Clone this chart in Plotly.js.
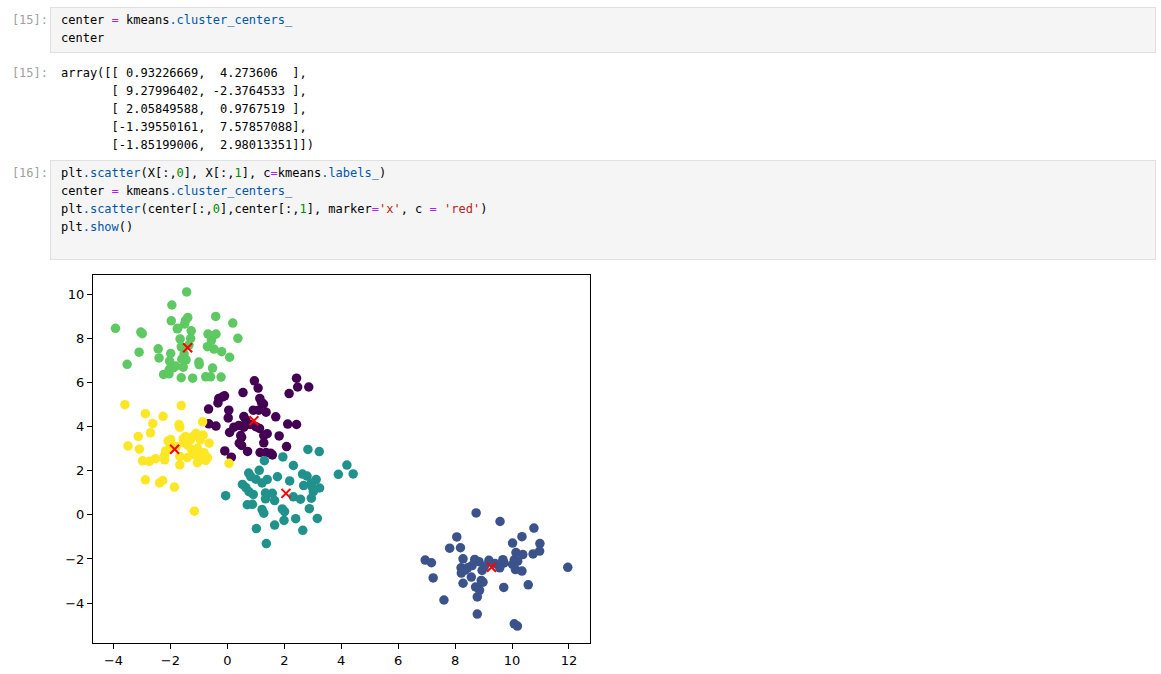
<!DOCTYPE html>
<html>
<head>
<meta charset="utf-8">
<script src="https://cdn.plot.ly/plotly-3.0.1.min.js"></script>
<style>
  html, body { margin: 0; padding: 0; background: #fff; width: 1161px; height: 674px; overflow: hidden; }
  .code { position: absolute; margin: 0; font-family: "DejaVu Sans Mono", "Liberation Mono", monospace; font-size: 12px; line-height: 18px; color: #000; white-space: pre; }
  .code div { height: 18px; }
  .prompt { color: #a0a0a0; text-align: right; width: 48px; left: 0; }
  .box { position: absolute; left: 50px; width: 1104px; background: #f5f5f5; border: 1px solid #e0e0e0; }
  .op { color: #AA22FF; }
  .pr { color: #0055AA; }
  .nu { color: #008800; }
  .st { color: #BA2121; }
  #plot { position: absolute; left: 40px; top: 265px; width: 570px; height: 409px; }
</style>
</head>
<body>
<div class="box" style="top:7px;height:44px;"></div>
<div class="code prompt" style="top:11px;"><div>[15]:</div></div>
<div class="code" style="left:61px;top:11px;"><div>center <span class="op">=</span> kmeans<span class="pr">.cluster_centers_</span></div><div>center</div></div>

<div class="code prompt" style="top:64px;"><div>[15]:</div></div>
<div class="code" style="left:61px;top:64px;"><div>array([[ 0.93226669,  4.273606  ],</div><div>       [ 9.27996402, -2.3764533 ],</div><div>       [ 2.05849588,  0.9767519 ],</div><div>       [-1.39550161,  7.57857088],</div><div>       [-1.85199006,  2.98013351]])</div></div>

<div class="box" style="top:160px;height:98px;"></div>
<div class="code prompt" style="top:164px;"><div>[16]:</div></div>
<div class="code" style="left:61px;top:164px;"><div>plt<span class="pr">.scatter</span>(X[:,<span class="nu">0</span>], X[:,<span class="nu">1</span>], c<span class="op">=</span>kmeans<span class="pr">.labels_</span>)</div><div>center <span class="op">=</span> kmeans<span class="pr">.cluster_centers_</span></div><div>plt<span class="pr">.scatter</span>(center[:,<span class="nu">0</span>],center[:,<span class="nu">1</span>], marker<span class="op">=</span><span class="st">'x'</span>, c <span class="op">=</span> <span class="st">'red'</span>)</div><div>plt<span class="pr">.show</span>()</div></div>

<div id="plot"></div>

<script>
// cluster 0 (purple)
const cluster0 = [[0.95,6.08],[1.08,5.75],[0.55,5.55],[2.43,6.20],[2.47,5.80],[2.86,5.80],[2.17,5.50],[-0.30,5.28],[-0.17,5.35],[-0.10,5.40],[-0.33,5.08],[1.14,5.28],[1.27,5.03],[-0.66,4.80],[0.05,4.75],[0.91,4.75],[1.10,4.75],[1.36,4.66],[0.03,4.40],[0.58,4.46],[1.70,4.45],[-0.65,4.13],[-0.40,4.03],[0.23,3.98],[0.40,4.05],[0.58,3.98],[1.13,3.92],[0.08,3.74],[0.47,3.60],[0.50,3.52],[1.28,3.60],[1.40,3.68],[2.12,4.12],[2.43,4.10],[1.82,3.58],[0.42,3.25],[0.50,3.15],[1.28,3.27],[-0.09,2.90],[0.14,2.62],[0.71,2.88],[1.15,2.83],[1.36,2.83],[1.52,2.80],[1.58,2.72],[2.08,3.10],[0.80,4.10],[0.65,4.30],[1.00,4.00],[1.20,5.10]];
// cluster 1 (dark blue)
const cluster1 = [[8.74,0.09],[9.58,-0.30],[10.77,-0.60],[8.06,-1.00],[10.35,-0.99],[10.02,-1.28],[10.98,-1.30],[7.81,-1.51],[8.19,-1.49],[10.97,-1.64],[10.14,-1.71],[10.38,-1.80],[10.74,-1.77],[8.28,-1.99],[6.95,-2.05],[7.17,-2.17],[8.69,-2.02],[8.84,-2.12],[9.19,-2.06],[9.68,-2.03],[9.72,-2.18],[10.08,-2.04],[10.02,-2.25],[10.12,-2.48],[10.35,-2.55],[8.21,-2.40],[8.44,-2.40],[8.22,-2.64],[8.95,-2.52],[9.03,-2.33],[9.57,-2.40],[11.96,-2.38],[8.57,-2.82],[8.92,-2.97],[8.98,-3.05],[7.23,-2.86],[8.28,-3.10],[8.72,-3.27],[8.86,-3.42],[9.71,-3.29],[10.57,-3.17],[8.78,-3.72],[7.61,-3.86],[8.78,-4.50],[10.08,-4.94],[10.19,-5.04],[8.35,-2.50],[9.40,-2.20],[10.20,-2.10],[8.60,-2.30]];
// cluster 2 (teal)
const cluster2 = [[2.83,2.97],[3.23,2.87],[1.30,2.46],[1.95,2.63],[2.32,2.24],[4.20,2.26],[3.90,1.84],[4.42,1.86],[1.12,2.02],[0.75,1.90],[0.82,1.74],[1.00,1.62],[1.76,1.73],[2.64,1.85],[2.80,1.76],[1.40,1.61],[1.22,1.45],[3.12,1.60],[2.19,1.54],[0.53,1.38],[0.65,1.24],[2.68,1.33],[2.98,1.27],[3.24,1.22],[0.76,1.05],[0.91,0.93],[1.34,0.99],[1.58,0.98],[-0.06,0.87],[1.34,0.73],[1.66,0.65],[2.32,0.82],[2.57,0.71],[2.95,0.76],[0.70,0.46],[0.88,0.48],[1.22,0.24],[1.28,0.08],[1.93,0.27],[2.01,0.15],[2.88,0.28],[2.40,-0.17],[1.99,-0.25],[3.16,-0.16],[1.66,-0.46],[1.02,-0.62],[2.65,-0.70],[1.37,-1.30],[3.02,1.05],[2.95,1.45]];
// cluster 3 (green)
const cluster3 = [[-3.93,8.46],[-3.04,8.29],[-2.99,8.22],[-3.52,6.83],[-3.10,7.38],[-2.43,7.53],[-2.40,7.12],[-2.24,6.37],[-2.05,6.40],[-1.95,9.52],[-1.97,8.80],[-2.03,6.98],[-1.99,7.32],[-1.90,6.67],[-1.74,8.47],[-1.62,6.22],[-1.66,7.98],[-1.55,6.70],[-1.47,8.82],[-1.43,10.11],[-1.39,8.95],[-1.50,8.66],[-1.76,8.44],[-1.27,8.35],[-1.29,8.00],[-1.22,6.20],[-1.00,6.93],[-0.99,6.82],[-0.76,6.26],[-0.68,8.20],[-0.70,7.63],[-0.59,6.26],[-0.52,8.12],[-0.52,6.66],[-0.41,9.00],[-0.47,7.52],[-0.40,8.20],[-0.20,7.40],[-0.22,6.25],[0.08,7.15],[0.19,8.70],[0.37,8.01],[-1.60,7.06],[-1.45,7.03],[-1.82,6.75],[-2.04,6.60],[-1.52,7.30],[-0.56,7.92],[-1.62,7.62],[-1.35,7.70]];
// cluster 4 (yellow)
const cluster4 = [[-3.60,5.00],[-1.62,4.96],[-2.88,4.59],[-2.26,4.47],[-2.62,4.14],[-1.70,4.10],[-1.67,3.98],[-0.87,4.22],[-3.13,3.56],[-2.70,3.72],[-3.49,3.13],[-3.09,2.98],[-2.08,3.36],[-1.99,3.42],[-1.47,3.55],[-1.20,3.57],[-0.85,3.62],[-1.53,3.28],[-1.39,3.16],[-1.05,3.02],[-0.96,2.82],[-0.82,2.82],[-0.64,3.25],[-2.17,2.90],[-2.98,2.45],[-2.74,2.43],[-2.52,2.55],[-2.20,2.50],[-1.67,2.65],[-1.41,2.60],[-1.67,2.27],[-1.05,2.37],[-0.76,2.47],[0.06,2.34],[-2.88,1.59],[-2.38,1.45],[-2.27,1.56],[-1.86,1.26],[-1.16,0.17],[-1.80,3.10],[-1.30,3.40],[-1.10,3.70],[-1.25,2.95],[-0.95,3.40],[-2.05,3.00],[-1.55,3.45],[-1.00,2.55],[-2.20,2.70],[-1.20,2.75],[-0.70,2.60]];

const centerX = [0.93226669, 9.27996402, 2.05849588, -1.39550161, -1.85199006];
const centerY = [4.273606, -2.3764533, 0.9767519, 7.57857088, 2.98013351];

const clusterColors = ['#440154', '#3b528b', '#21918c', '#5ec962', '#fde725'];
const xTicks = [-4, -2, 0, 2, 4, 6, 8, 10, 12];
const yTicks = [-4, -2, 0, 2, 4, 6, 8, 10];

const clusters = [cluster0, cluster1, cluster2, cluster3, cluster4];
const traces = clusters.map((c, i) => ({
  type: 'scatter', mode: 'markers',
  x: c.map(p => p[0]), y: c.map(p => p[1]),
  marker: { color: clusterColors[i], size: 9.5, line: { width: 0 } },
  hoverinfo: 'skip'
}));
traces.push({
  type: 'scatter', mode: 'markers', x: centerX, y: centerY,
  marker: { symbol: 'x-thin', size: 9, color: 'red', line: { color: 'red', width: 2 } },
  hoverinfo: 'skip'
});

const axisCommon = {
  showgrid: false, zeroline: false, showline: true, mirror: true,
  linecolor: '#000', linewidth: 1, ticks: 'outside', ticklen: 5, tickwidth: 1, tickcolor: '#000',
  tickfont: { family: 'DejaVu Sans', size: 13, color: '#000' }
};

const layout = {
  width: 570, height: 409,
  margin: { l: 53, r: 20, t: 10, b: 31 },
  showlegend: false,
  paper_bgcolor: 'rgba(0,0,0,0)', plot_bgcolor: '#fff',
  xaxis: Object.assign({}, axisCommon, { range: [-4.72, 12.74], tickvals: xTicks, ticktext: xTicks.map(v => String(v).replace('-', '\u2212')) }),
  yaxis: Object.assign({}, axisCommon, { range: [-5.81, 10.88], tickvals: yTicks, ticktext: yTicks.map(v => String(v).replace('-', '\u2212')) })
};

Plotly.newPlot('plot', traces, layout, { staticPlot: true, displayModeBar: false });
</script>
</body>
</html>
